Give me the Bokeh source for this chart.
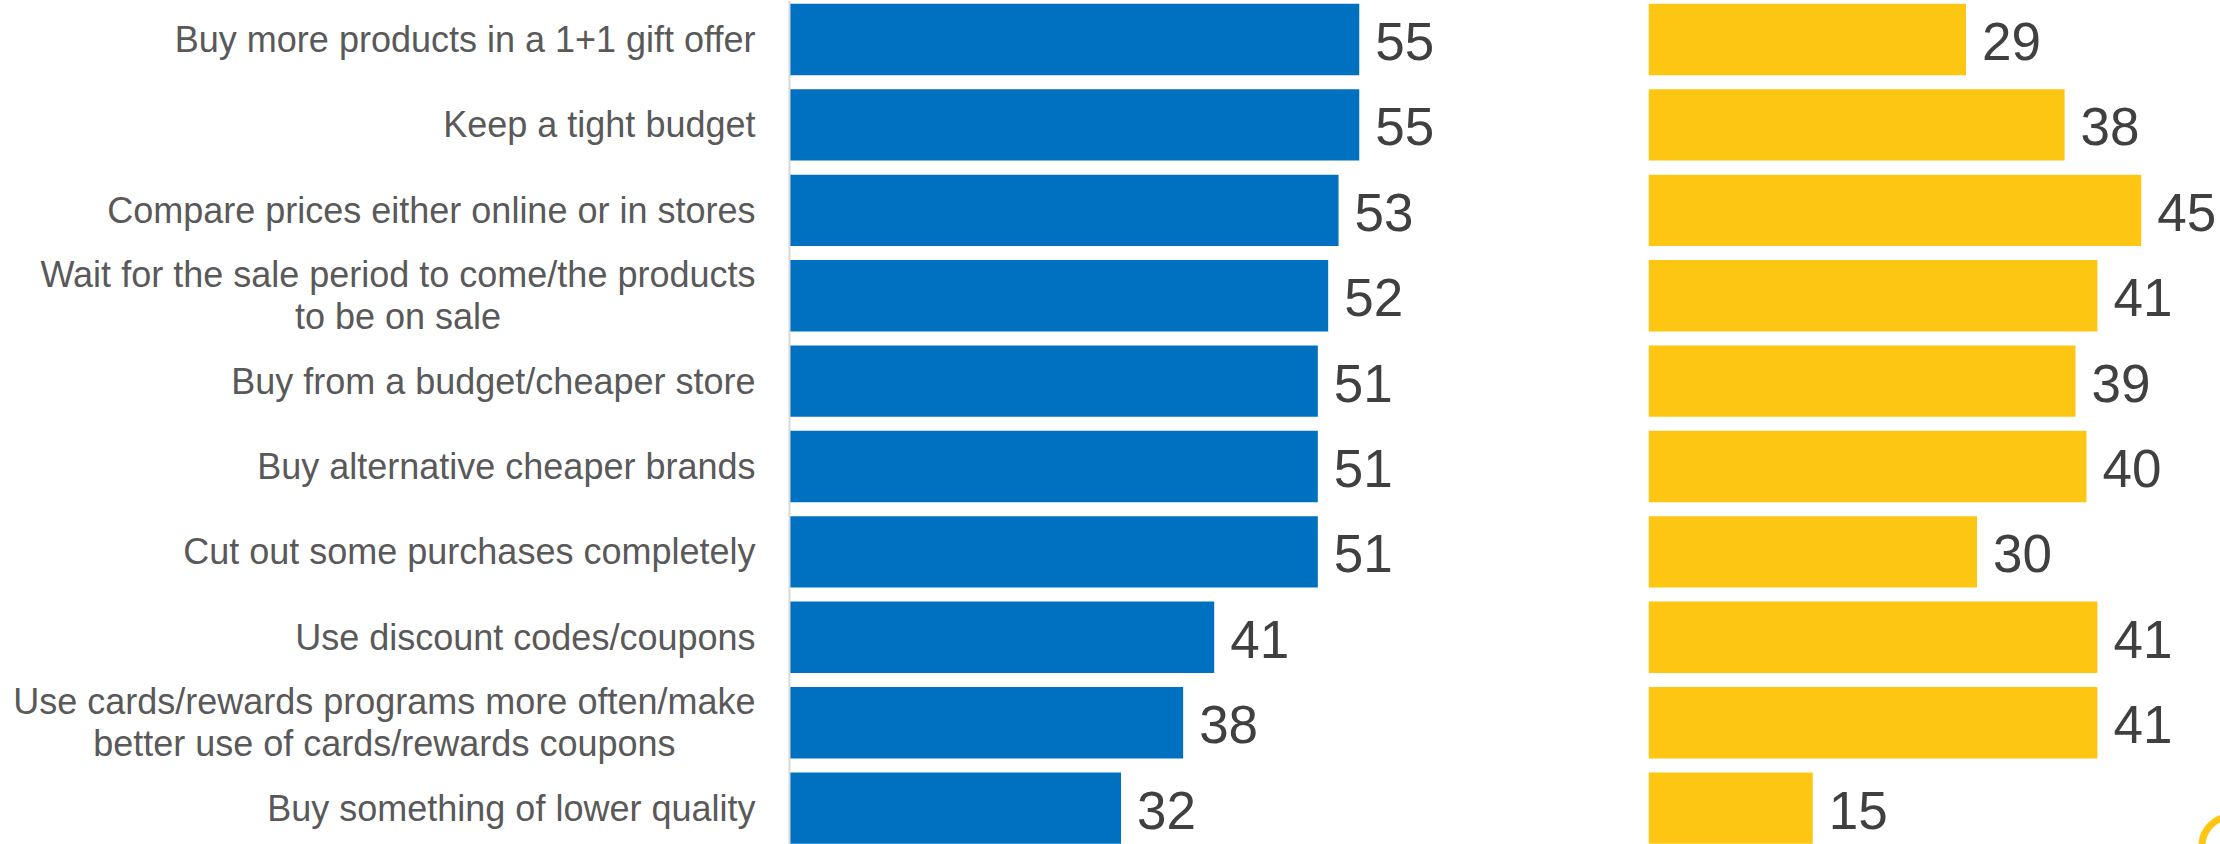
from bokeh.plotting import figure
from bokeh.models import ColumnDataSource, Range1d, Span
from bokeh.layouts import row
from bokeh.embed import file_html
from bokeh.resources import INLINE
from bokeh.core.properties import value

# ---- data ----
categories = [
    "Buy more products in a 1+1 gift offer",
    "Keep a tight budget",
    "Compare prices either online or in stores",
    "Wait for the sale period to come/the products\nto be on sale",
    "Buy from a budget/cheaper store",
    "Buy alternative cheaper brands",
    "Cut out some purchases completely",
    "Use discount codes/coupons",
    "Use cards/rewards programs more often/make\nbetter use of cards/rewards coupons",
    "Buy something of lower quality",
]
blue_values = [55, 55, 53, 52, 51, 51, 51, 41, 38, 32]
yellow_values = [29, 38, 45, 41, 39, 40, 30, 41, 41, 15]

BLUE = "#0070C0"
YELLOW = "#FDC612"
LABEL_GRAY = "#595959"
VALUE_GRAY = "#404040"
FONT = "Liberation Sans"

rows = list(range(len(categories)))
src = ColumnDataSource(dict(
    y=rows,
    cat=categories,
    blue=blue_values,
    yellow=yellow_values,
    blue_txt=[str(v) for v in blue_values],
    yellow_txt=[str(v) for v in yellow_values],
))

H = 844
y_range = Range1d(9.426, -0.457)

# ---- left panel: labels + blue bars ----
p1 = figure(width=1648, height=H, x_range=Range1d(-76.16, 82.92), y_range=y_range,
            output_backend="svg", toolbar_location=None,
            x_axis_location=None, y_axis_location=None, min_border=0)
p1.grid.visible = False
p1.outline_line_color = None
p1.background_fill_color = "white"
p1.border_fill_color = "white"

p1.hbar(y="y", left=0, right="blue", height=0.836, source=src,
        fill_color=BLUE, line_color=None)
p1.add_layout(Span(location=0, dimension="height", line_color="#D9D9D9", line_width=2))

p1.text(x=0, y="y", text="cat", source=src, x_offset=-34,
        anchor="center_right", text_align="center", text_baseline="middle",
        text_font=value(FONT), text_font_size="36px", text_color=LABEL_GRAY,
        text_line_height=1.02)

p1.text(x="blue", y="y", text="blue_txt", source=src, x_offset=16, y_offset=2,
        text_align="left", text_baseline="middle",
        text_font=value(FONT), text_font_size="53px", text_color=VALUE_GRAY)

# ---- right panel: yellow bars ----
p2 = figure(width=572, height=H, x_range=Range1d(0, 52.24), y_range=y_range,
            output_backend="svg", toolbar_location=None,
            x_axis_location=None, y_axis_location=None, min_border=0)
p2.grid.visible = False
p2.outline_line_color = None
p2.background_fill_color = "white"
p2.border_fill_color = "white"

p2.hbar(y="y", left=0, right="yellow", height=0.836, source=src,
        fill_color=YELLOW, line_color=None)
p2.text(x="yellow", y="y", text="yellow_txt", source=src, x_offset=16, y_offset=2,
        text_align="left", text_baseline="middle",
        text_font=value(FONT), text_font_size="53px", text_color=VALUE_GRAY)

# decorative logo ring fragment at the bottom-right corner
p2.scatter(x=[53.2], y=[9.44], marker="circle", size=58, fill_color=None,
           line_color=YELLOW, line_width=7)

layout = row(p1, p2, spacing=0)
open("out.html", "w").write(file_html(layout, INLINE))
